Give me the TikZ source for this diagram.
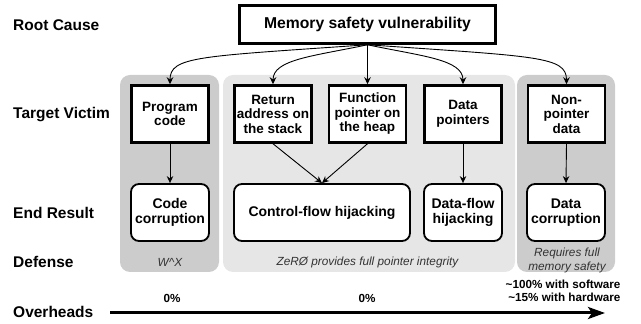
\documentclass[tikz,border=0pt]{standalone}
\usepackage{fontspec}
\setmainfont{Liberation Sans}
\definecolor{paneldark}{HTML}{CCCCCC}
\definecolor{panellight}{HTML}{E6E6E6}
\definecolor{notegray}{HTML}{333333}
\usetikzlibrary{arrows.meta, positioning}

\begin{document}
\begin{tikzpicture}[x=1pt, y=1pt,
    rowlabel/.style={anchor=west, inner sep=0pt, font=\fontsize{15.5}{17}\selectfont\bfseries},
    victim/.style={draw, fill=white, line width=2.5pt, minimum width=77pt, minimum height=57pt,
      align=center, inner sep=1pt, font=\fontsize{13.5}{14.5}\selectfont\bfseries},
    result/.style={draw, fill=white, line width=1.8pt, rounded corners=8pt, minimum width=78pt,
      minimum height=57pt, align=center, inner sep=1pt, font=\fontsize{14}{15}\selectfont\bfseries},
    note/.style={text=notegray, align=center, font=\fontsize{11.8}{14.5}\selectfont\itshape},
    cost/.style={font=\fontsize{11.7}{13.5}\selectfont\bfseries},
    conn/.style={line width=0.9pt, -{Stealth[length=7pt, width=6.5pt]}}]
        \useasboundingbox (0,0) rectangle (641,324);
        % Panels behind the columns
        \fill[paneldark, rounded corners=10pt] (120,52) rectangle (219,249);
        \fill[panellight, rounded corners=10pt] (223,52) rectangle (515,249);
        \fill[paneldark, rounded corners=10pt] (517,52) rectangle (615,249);
        % Row labels
        \node[rowlabel] (lroot) at (13,299) {Root Cause};
        \node[rowlabel] (lvictim) at (13,209) {Target Victim};
        \node[rowlabel] (lresult) at (13,111) {End Result};
        \node[rowlabel] (ldefense) at (13,62) {Defense};
        \node[rowlabel] (lcost) at (13,12) {Overheads};
        % Root cause
        \node[draw, fill=white, line width=2.5pt, minimum width=256pt, minimum height=38pt,
          font=\fontsize{15.7}{17}\selectfont\bfseries] (mem) at (367.5,299.5)
          {Memory safety vulnerability};
        % Target victims
        \node[victim] (pc) at (170,210) {Program\\code};
        \node[victim] (ret) at (273,210) {Return\\address on\\the stack};
        \node[victim] (fptr) at (367.5,210) {Function\\pointer on\\the heap};
        \node[victim] (dptr) at (463,210) {Data\\pointers};
        \node[victim] (npd) at (566.5,210) {Non-\\pointer\\data};
        % End results
        \node[result] (cc) at (170,111.5) {Code\\corruption};
        \node[result, minimum width=176pt] (cfh) at (322,111.5) {Control-flow hijacking};
        \node[result] (dfh) at (463,111.5) {Data-flow\\hijacking};
        \node[result] (dc) at (566,111.5) {Data\\corruption};
        % Root cause to victims
        \draw[conn] (mem.south) to[out=184, in=90, out distance=170pt, in distance=28pt] (pc.north);
        \draw[conn] (mem.south) to[out=192, in=90, out distance=55pt, in distance=25pt] (ret.north);
        \draw[conn] (mem.south) -- (fptr.north);
        \draw[conn] (mem.south) to[out=-12, in=90, out distance=55pt, in distance=25pt] (dptr.north);
        \draw[conn] (mem.south) to[out=-4, in=90, out distance=170pt, in distance=28pt] (npd.north);
        % Victims to results
        \draw[conn] (pc.south) -- (cc.north);
        \draw[conn] (ret.south) -- (cfh.north);
        \draw[conn] (fptr.south) -- (cfh.north);
        \draw[conn] (dptr.south) -- (dfh.north);
        \draw[conn] (npd.south) -- (dc.north);
        % Defenses
        \node[note] (dwx) at (170,62) {W\textasciicircum X};
        \node[note] (dzero) at (367.5,62) {ZeRØ provides full pointer integrity};
        \node[note] (dfull) at (567,63.5) {Requires full\\memory safety};
        % Overheads
        \coordinate (ovs) at (110,11);
        \coordinate (ove) at (605,11);
        \draw[line width=3pt, -{Stealth[length=17pt, width=12pt, inset=4pt]}] (ovs) -- (ove);
        \node[cost] (c1) at (172,26) {0\%};
        \node[cost] (c2) at (367,26) {0\%};
        \node[cost, align=right, anchor=east] (c3) at (624,33)
          {\textasciitilde100\% with software\\\textasciitilde15\% with hardware};
      \end{tikzpicture}
\end{document}
